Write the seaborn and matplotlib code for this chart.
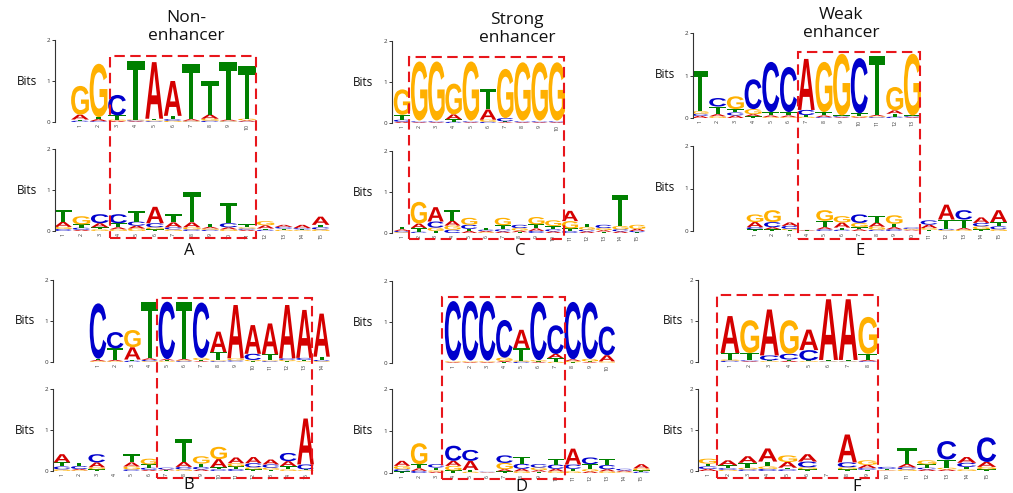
import numpy as np
import matplotlib
matplotlib.use("Agg")
import matplotlib.pyplot as plt
import seaborn as sns
from matplotlib.textpath import TextPath
from matplotlib.patches import PathPatch, Rectangle
from matplotlib.font_manager import FontProperties
from matplotlib.transforms import Affine2D

# ---------------- data: bits per position, columns = A, C, G, T ----------------
BASES = ["A", "C", "G", "T"]

non_top_1 = [[.12, .03, .70, .03], [.05, .02, 1.30, .05], [.03, .50, .03, .10], [.02, .02, .02, 1.43],
             [1.38, .02, .02, .04], [.85, .04, .03, .08], [.04, .01, .02, 1.35], [.10, .03, .05, .82],
             [.03, .01, .02, 1.40], [.03, .01, .04, 1.28]]
non_bot_1 = [[.12, .05, .05, .30], [.03, .05, .20, .08], [.10, .22, .04, .05], [.05, .22, .04, .10],
             [.07, .10, .06, .25], [.40, .10, .05, .04], [.12, .05, .04, .20], [.12, .04, .05, .75],
             [.04, .03, .03, .08], [.05, .10, .04, .50], [.03, .03, .03, .07], [.08, .03, .10, .03],
             [.05, .04, .03, .03], [.08, .03, .02, .02], [.20, .05, .04, .06]]
strong_top_1 = [[.03, .05, .62, .12], [.02, .02, 1.44, .02], [.02, .02, 1.44, .02], [.12, .03, .75, .06],
                [.02, .02, 1.44, .02], [.25, .03, .05, .50], [.02, .08, 1.20, .02], [.02, .02, 1.42, .02],
                [.02, .02, 1.42, .02], [.02, .02, 1.42, .02]]
strong_bot_1 = [[.04, .03, .02, .06], [.11, .03, .53, .09], [.35, .15, .08, .05], [.12, .08, .10, .25],
                [.05, .10, .17, .05], [.03, .03, .02, .04], [.04, .05, .18, .10], [.04, .08, .06, .02],
                [.06, .05, .18, .10], [.04, .05, .14, .08], [.25, .05, .18, .06], [.04, .04, .07, .08],
                [.04, .08, .05, .03], [.04, .05, .08, .75], [.05, .03, .10, .02]]
weak_top_1 = [[.05, .05, .06, .95], [.05, .20, .04, .18], [.06, .07, .30, .08], [.05, .70, .12, .04],
              [.04, 1.18, .02, .08], [.04, 1.06, .02, .08], [1.20, .12, .03, .04], [.04, .02, 1.18, .08],
              [.02, .02, 1.45, .02], [.02, 1.30, .03, .06], [.03, .02, .02, 1.40], [.08, .03, .55, .07],
              [.02, .02, 1.45, .02]]
weak_bot_1 = [[.12, .05, .18, .04], [.05, .12, .28, .04], [.08, .07, .03, .02], [.01, .005, .005, .005],
              [.05, .04, .25, .15], [.12, .03, .15, .05], [.04, .20, .10, .05], [.10, .03, .07, .15],
              [.05, .04, .20, .08], [.02, .03, .02, .01], [.08, .10, .04, .03], [.35, .03, .02, .22],
              [.04, .22, .03, .20], [.13, .08, .07, .04], [.28, .07, .04, .10]]
non_top_2 = [[.03, 1.35, .02, .03], [.03, .40, .02, .28], [.30, .03, .42, .03], [.04, .03, .02, 1.38],
             [.03, 1.40, .02, .02], [.03, .02, .02, 1.40], [.02, 1.35, .05, .03], [.50, .02, .02, .20],
             [1.30, .03, .05, .01], [.70, .15, .03, .02], [.75, .02, .02, .15], [1.30, .04, .03, .02],
             [1.17, .05, .02, .03], [1.05, .03, .02, .08]]
non_bot_2 = [[.20, .07, .04, .10], [.03, .07, .02, .08], [.12, .20, .05, .04], [0, 0, 0, 0],
             [.10, .04, .07, .20], [.03, .05, .14, .08], [.02, .04, .01, .01], [.12, .06, .04, .55],
             [.04, .06, .18, .08], [.20, .04, .30, .05], [.14, .05, .08, .06], [.15, .10, .05, .04],
             [.12, .08, .05, .03], [.12, .20, .04, .08], [1.12, .12, .02, .02]]
strong_top_2 = [[.02, 1.45, .02, .02], [.02, 1.45, .02, .02], [.02, 1.45, .02, .02], [.03, .92, .08, .02],
                [.45, .03, .03, .30], [.02, 1.42, .03, .02], [.10, .70, .03, .09], [.04, 1.40, .03, .02],
                [.02, 1.38, .06, .02], [.15, .70, .03, .01]]
strong_bot_2 = [[.12, .05, .08, .04], [.06, .05, .50, .10], [.03, .08, .03, .07], [.12, .36, .11, .06],
                [.22, .26, .03, .04], [.01, .01, .005, .005], [.05, .18, .15, .04], [.06, .12, .04, .16],
                [.04, .08, .06, .03], [.06, .10, .04, .14], [.38, .10, .04, .06], [.04, .16, .05, .12],
                [.05, .10, .04, .15], [.03, .04, .02, .01], [.10, .03, .05, .03]]
weak_top_2 = [[.90, .03, .03, .16], [.02, .02, .80, .18], [1.12, .12, .02, .02], [.03, .14, .82, .03],
              [.50, .25, .02, .02], [1.48, .01, .01, .03], [1.48, .01, .01, .03], [.03, .02, .90, .15]]
weak_bot_2 = [[.05, .06, .12, .07], [.12, .04, .03, .07], [.16, .04, .04, .12], [.32, .05, .06, .12],
              [.14, .04, .16, .04], [.18, .14, .05, .04], [0, 0, 0, 0], [.68, .12, .05, .04],
              [.08, .04, .11, .03], [.01, .05, .01, .03], [.08, .05, .04, .38], [.04, .04, .10, .08],
              [.04, .45, .04, .20], [.14, .10, .04, .06], [.12, .60, .06, .04]]

titles = ["Non-\nenhancer", "Strong\nenhancer", "Weak\nenhancer"]
panel_letters = ["A", "C", "E", "B", "D", "F"]

# ---------------- layout (pixels of a 1013 x 493 canvas) ----------------
W, H = 1013, 493
# (data, spine_x, first_pos_x, step, baseline_y, two_bits_y)
logos = [
    (non_top_1, 55, 80, 18.55, 122, 40),
    (non_bot_1, 55, 63, 18.4, 231, 149),
    (strong_top_1, 392, 402, 17.2, 123, 41),
    (strong_bot_1, 392, 402, 16.8, 233, 151),
    (weak_top_1, 693, 700, 17.7, 118, 33),
    (weak_bot_1, 693, 755, 17.4, 231, 146),
    (non_top_2, 53, 98, 17.2, 362, 280),
    (non_bot_2, 53, 62, 17.4, 471, 389),
    (strong_top_2, 392, 453, 17.1, 363, 281),
    (strong_bot_2, 392, 402, 17.1, 473, 389),
    (weak_top_2, 698, 730, 19.7, 362, 280),
    (weak_bot_2, 698, 708, 19.9, 471, 389),
]
bits_pos = [(27, 81), (27, 190), (363, 82), (363, 192), (665, 75), (665, 188),
            (25, 321), (25, 430), (363, 322), (363, 431), (673, 321), (673, 430)]
boxes = [(110, 56, 256, 238), (409, 57, 564, 239), (798, 52, 920, 239),
         (157, 298, 312, 478), (442, 297, 565, 479), (717, 295, 878, 478)]
letter_pos = [(189, 251), (520, 251), (860, 251), (189, 485), (521, 487), (857, 487)]
title_pos = [(186, 27), (517, 29), (841, 24)]

COLORS = {"A": "#D40000", "C": "#0000CC", "G": "#FFB000", "T": "#008000"}

sns.set_theme(style="ticks")
plt.rcParams["font.family"] = ["Open Sans", "DejaVu Sans"]

fig = plt.figure(figsize=(W / 100, H / 100), dpi=100)
fig.patch.set_facecolor("white")

letter_font = FontProperties(family="Liberation Sans", weight="bold")
glyphs = {}
for b in BASES:
    p = TextPath((0, 0), b, size=1, prop=letter_font)
    ext = p.get_extents()
    glyphs[b] = (p, ext.x0, ext.y0, ext.width, ext.height)


def draw_logo(ax, data):
    for i, row in enumerate(data, start=1):
        order = np.argsort(row, kind="stable")
        bottom = 0.0
        for k in order:
            h = row[k]
            if h <= 0:
                continue
            base = BASES[k]
            path, x0, y0, gw, gh = glyphs[base]
            w = 0.96
            tr = (Affine2D().translate(-x0, -y0).scale(w / gw, h / gh)
                  .translate(i - w / 2, bottom) + ax.transData)
            ax.add_patch(PathPatch(path, transform=tr, fc=COLORS[base], ec="none", lw=0))
            bottom += h


for (data, sx, p1, step, y0, y2), (bx, by) in zip(logos, bits_pos):
    n = len(data)
    right = p1 + (n - 1) * step + step / 2
    ax = fig.add_axes([sx / W, 1 - y0 / H, (right - sx) / W, (y0 - y2) / H])
    ax.set_xlim(1 - (p1 - sx) / step, n + 0.5)
    ax.set_ylim(0, 2)
    ax.patch.set_alpha(0)
    draw_logo(ax, data)
    sns.despine(ax=ax, top=True, right=True, bottom=True)
    ax.spines["left"].set_linewidth(0.8)
    ax.spines["left"].set_color("#333333")
    ax.set_yticks([0, 1, 2])
    ax.set_yticklabels(["0", "1", "2"])
    ax.tick_params(axis="y", length=2.5, width=0.7, labelsize=4.5, pad=1, colors="#333333")
    ax.set_xticks(range(1, n + 1))
    ax.set_xticklabels([str(i) for i in range(1, n + 1)], rotation=90)
    ax.tick_params(axis="x", length=0, labelsize=3.8, pad=1.5, colors="#333333")
    ax.grid(False)
    fig.text(bx / W, 1 - by / H, "Bits", ha="center", va="center", fontsize=8.5, color="#111111")

for (x0, y0, x1, y1) in boxes:
    fig.add_artist(Rectangle((x0 / W, 1 - y1 / H), (x1 - x0) / W, (y1 - y0) / H,
                             transform=fig.transFigure, fill=False, ec="#E8161B",
                             lw=1.5, ls=(0, (5, 2.6))))

for t, (x, y) in zip(titles, title_pos):
    fig.text(x / W, 1 - y / H, t, ha="center", va="center", fontsize=12.5, linespacing=1.12,
             color="#111111")

for t, (x, y) in zip(panel_letters, letter_pos):
    fig.text(x / W, 1 - y / H, t, ha="center", va="center", fontsize=12, color="#111111")

fig.savefig("out.png", dpi=100, facecolor="white")
